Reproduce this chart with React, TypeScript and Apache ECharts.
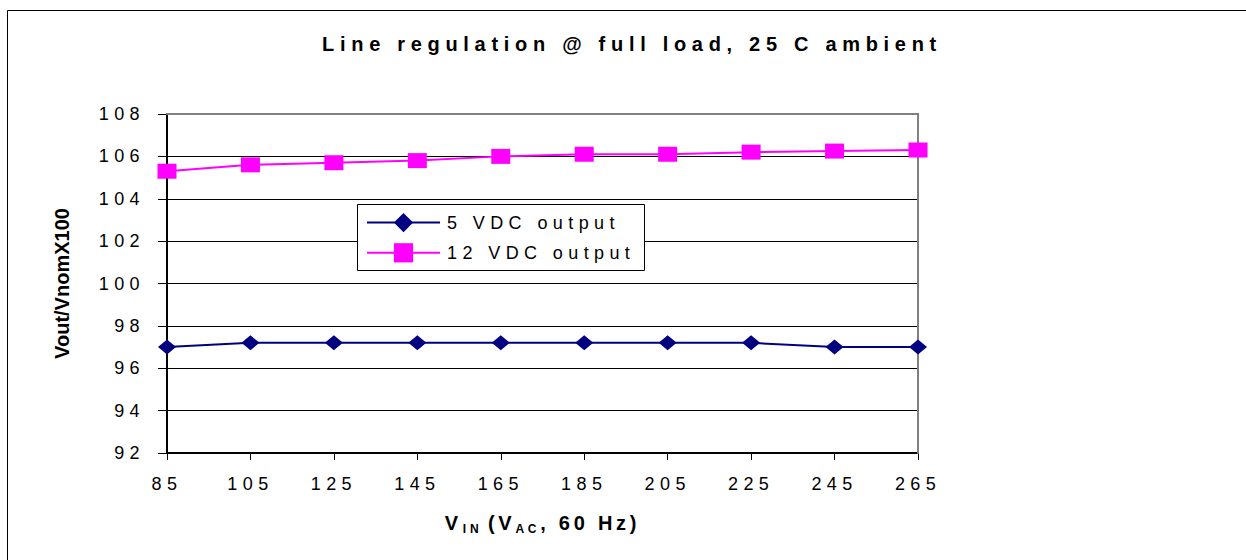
import React, { useEffect, useRef } from "react";
import * as echarts from "echarts";

const vin = ["85", "105", "125", "145", "165", "185", "205", "225", "245", "265"];
const v5 = [97.0, 97.2, 97.2, 97.2, 97.2, 97.2, 97.2, 97.2, 97.0, 97.0];
const v12 = [105.3, 105.6, 105.7, 105.8, 106.0, 106.1, 106.1, 106.2, 106.25, 106.3];
const seriesNames = ["5 VDC output", "12 VDC output"];
const titleText = "Line regulation @ full load, 25 C ambient";
const yName = "Vout/VnomX100";
const yMin = 92;
const yMax = 108;
const yStep = 2;

const FONT = "'Liberation Sans', Arial, Helvetica, sans-serif";
const LS = 5.4; // general letter spacing
const LS_TITLE = 5.7;
const LS_NAME = 3.75;
const nameSegs = ["V", "IN", "(V", "AC", ", 60 Hz)"];

export default function App() {
  const ref = useRef<HTMLDivElement>(null);
  useEffect(() => {
    const el = ref.current!;
    const chart = echarts.init(el, null, { renderer: "svg" });
    const ctx = document.createElement("canvas").getContext("2d")!;
    const mw = (txt: string, size: number) => {
      ctx.font = `bold ${size}px ${FONT}`;
      return ctx.measureText(txt).width;
    };
    const big = { fontSize: 20, fontWeight: "bold", color: "#000", fontFamily: FONT, lineHeight: 24, align: "left" };
    const sub = { fontSize: 12, fontWeight: "bold", color: "#000", fontFamily: FONT, lineHeight: 12, verticalAlign: "bottom", align: "left" };
    chart.setOption({
      animation: false,
      backgroundColor: "#ffffff",
      textStyle: { fontFamily: FONT, color: "#000" },
      graphic: [
        {
          type: "rect",
          silent: true,
          z: 0,
          shape: { x: 7.5, y: 10.5, width: 1260, height: 570 },
          style: { fill: "none", stroke: "#000", lineWidth: 1 },
        },
        {
          type: "text",
          silent: true,
          x: 632,
          y: 44,
          style: {
            text: titleText,
            font: `bold 20px ${FONT}`,
            fill: "#000",
            align: "center",
            verticalAlign: "middle",
          },
        },
        {
          type: "rect",
          silent: true,
          z: 3,
          shape: { x: 357.5, y: 204.5, width: 287, height: 66 },
          style: { fill: "#fff", stroke: "#000", lineWidth: 1 },
        },
      ],
      legend: {
        orient: "vertical",
        left: 366,
        top: 213,
        padding: 0,
        itemWidth: 73,
        itemHeight: 24,
        itemGap: 11,
        z: 4,
        data: seriesNames,
        textStyle: { fontSize: 18, color: "#000", fontFamily: FONT, padding: [0, 0, 0, 2] },
      },
      grid: { left: 167, top: 114, right: 328, bottom: 107, containLabel: false },
      xAxis: [
        {
          type: "category",
          data: vin,
          boundaryGap: false,
          axisLine: { lineStyle: { color: "#000", width: 2 } },
          axisTick: { show: true, length: 7, lineStyle: { color: "#000", width: 1 } },
          axisLabel: { interval: 0, color: "#000", fontSize: 18, margin: 22, fontFamily: FONT },
          splitLine: { show: false },
          name: `{v|V}{i|IN}{p|(V}{a|AC}{r|, 60 Hz)}`,
          nameLocation: "middle",
          nameGap: 58,
          nameTextStyle: {
            rich: {
              v: { ...big, width: mw("V", 20) + LS_NAME + 1 },
              i: { ...sub, width: mw("IN", 12) + 2 * LS_NAME + mw(" ", 20) },
              p: { ...big, width: mw("(V", 20) + 2 * LS_NAME },
              a: { ...sub, width: mw("AC", 12) + 2 * LS_NAME },
              r: { ...big, width: mw(", 60 Hz)", 20) + 8 * LS_NAME },
            },
          },
        },
        {
          type: "category",
          data: vin,
          boundaryGap: false,
          position: "top",
          z: 1,
          axisLine: { show: true, lineStyle: { color: "#808080", width: 2 } },
          axisTick: { show: false },
          axisLabel: { show: false },
          splitLine: { show: false },
        },
      ],
      yAxis: [
        {
          type: "value",
          min: yMin,
          max: yMax,
          interval: yStep,
          axisLine: { show: true, lineStyle: { color: "#000", width: 2 } },
          axisTick: { show: true, length: 9, lineStyle: { color: "#000", width: 1 } },
          axisLabel: { color: "#000", fontSize: 18, margin: 22, fontFamily: FONT },
          splitLine: { show: true, lineStyle: { color: "#000", width: 1 } },
          name: yName,
          nameLocation: "middle",
          nameGap: 95,
          nameTextStyle: { fontSize: 20, fontWeight: "bold", color: "#000", fontFamily: FONT },
        },
        {
          type: "value",
          min: yMin,
          max: yMax,
          interval: yStep,
          position: "right",
          z: 1,
          axisLine: { show: true, lineStyle: { color: "#808080", width: 2 } },
          axisTick: { show: false },
          axisLabel: { show: false },
          splitLine: { show: false },
        },
      ],
      series: [
        {
          name: seriesNames[0],
          type: "line",
          data: v5,
          xAxisIndex: 0,
          yAxisIndex: 0,
          symbol: "diamond",
          symbolSize: [18, 15],
          showAllSymbol: true,
          color: "#000080",
          lineStyle: { color: "#000080", width: 2 },
          itemStyle: { color: "#000080" },
          z: 5,
        },
        {
          name: seriesNames[1],
          type: "line",
          data: v12,
          xAxisIndex: 0,
          yAxisIndex: 0,
          symbol: "rect",
          symbolSize: [19, 15],
          showAllSymbol: true,
          color: "#ff00ff",
          lineStyle: { color: "#ff00ff", width: 2 },
          itemStyle: { color: "#ff00ff" },
          z: 5,
        },
      ],
    });

    const apply = () => {
      el.querySelectorAll("text").forEach((t) => {
        const s = (t.textContent || "").trim();
        let ls = LS;
        if (s === yName) ls = 0;
        else if (s === titleText) ls = LS_TITLE;
        else if (nameSegs.indexOf(s) >= 0) ls = LS_NAME;
        t.setAttribute("letter-spacing", String(ls));
      });
    };
    apply();
    chart.on("finished", apply);

    return () => {
      chart.dispose();
    };
  }, []);

  return (
    <div
      ref={ref}
      style={{ position: "absolute", left: 0, top: 0, width: 1246, height: 560 }}
    />
  );
}
